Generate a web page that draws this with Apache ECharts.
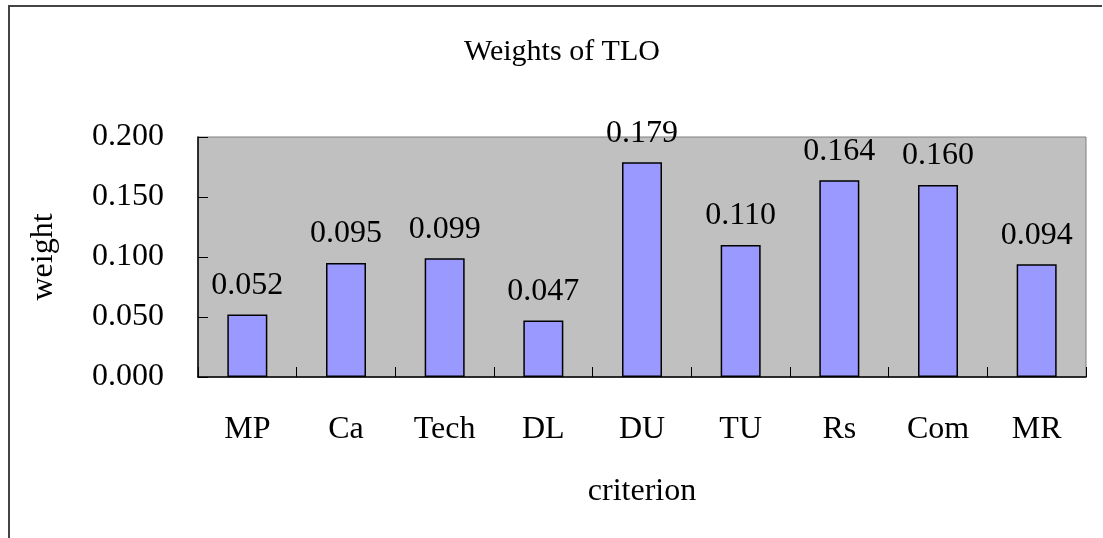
<!DOCTYPE html>
<html>
<head>
<meta charset="utf-8">
<script src="https://cdn.jsdelivr.net/npm/echarts@6/dist/echarts.min.js"></script>
<style>
html,body{margin:0;padding:0;background:#fff;}
#wrap{position:relative;width:1103px;height:538px;}
#chart{width:1103px;height:538px;}
#frame{position:absolute;left:8px;top:5px;right:1px;bottom:-5px;border-top:2px solid #444;border-left:2px solid #444;pointer-events:none;}
</style>
</head>
<body>
<div id="wrap"><div id="chart"></div><div id="frame"></div></div>
<script>
const categories = ['MP','Ca','Tech','DL','DU','TU','Rs','Com','MR'];
const weights = [0.052,0.095,0.099,0.047,0.179,0.110,0.164,0.160,0.094];
const yTicks = {min:0, max:0.2, interval:0.05};
const FONT = '"Liberation Serif","Times New Roman",serif';

const chart = echarts.init(document.getElementById('chart'));
chart.setOption({
  animation:false,
  backgroundColor:'#fff',
  title:{text:'Weights of TLO', left:557, top:32, textAlign:'center',
    textStyle:{fontFamily:FONT, fontSize:30, fontWeight:'normal', color:'#000'}},
  grid:{left:198, right:17, top:137, bottom:161, show:true,
    backgroundColor:'#c0c0c0', borderColor:'#808080', borderWidth:1},
  xAxis:{type:'category', data:categories,
    name:'criterion', nameLocation:'middle', nameGap:99,
    nameTextStyle:{fontFamily:FONT, fontSize:32, color:'#000'},
    axisLine:{lineStyle:{color:'#000', width:1.5}},
    axisTick:{show:true, inside:true, length:10, alignWithLabel:false, lineStyle:{color:'#000'}},
    axisLabel:{fontFamily:FONT, fontSize:32, color:'#000', margin:37},
    splitLine:{show:false}},
  yAxis:{type:'value', min:yTicks.min, max:yTicks.max, interval:yTicks.interval,
    name:'weight', nameLocation:'middle', nameGap:138, nameRotate:90,
    nameTextStyle:{fontFamily:FONT, fontSize:32, color:'#000'},
    axisLine:{show:true, lineStyle:{color:'#000', width:1.5}},
    axisTick:{show:true, inside:true, length:10, lineStyle:{color:'#000', width:1}},
    axisLabel:{fontFamily:FONT, fontSize:32, color:'#000', margin:34,
      formatter:v=>v.toFixed(3)},
    splitLine:{show:false}},
  series:[{type:'bar', data:weights, barWidth:40,
    itemStyle:{color:'#9999ff', borderColor:'#000', borderWidth:1.5},
    label:{show:true, position:'top', distance:13, fontFamily:FONT, fontSize:32, color:'#000',
      formatter:p=>p.value.toFixed(3)}}]
});
</script>
</body>
</html>
